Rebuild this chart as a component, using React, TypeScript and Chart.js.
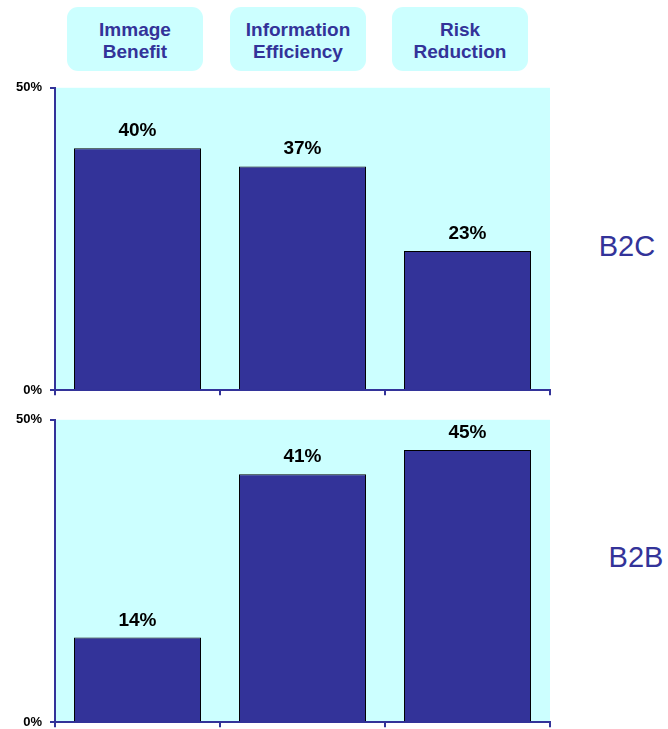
import React, { useEffect, useRef } from "react";
import { Chart, registerables } from "chart.js";

Chart.register(...registerables);

const categories = ["Immage Benefit", "Information Efficiency", "Risk Reduction"];
const headerLines = [["Immage", "Benefit"], ["Information", "Efficiency"], ["Risk", "Reduction"]];
const b2cValues = [40, 37, 23];
const b2bValues = [14, 41, 45];
const yTicks = [0, 50];
const panelLabels = ["B2C", "B2B"];

const NAVY = "#333399";
const CYAN = "#ccffff";
const FONT = "'Liberation Sans', Arial, Helvetica, sans-serif";

const bgPlugin = {
  id: "bgFill",
  beforeDraw(chart: any) {
    const { ctx, chartArea } = chart;
    ctx.save();
    ctx.fillStyle = CYAN;
    ctx.fillRect(chartArea.left, chartArea.top, chartArea.right - chartArea.left, chartArea.bottom - chartArea.top);
    ctx.restore();
  },
};

const labelPlugin = {
  id: "valueLabels",
  afterDatasetsDraw(chart: any) {
    const { ctx } = chart;
    const meta = chart.getDatasetMeta(0);
    const data = chart.data.datasets[0].data;
    ctx.save();
    ctx.fillStyle = "#000";
    ctx.font = `bold 19px ${FONT}`;
    ctx.textAlign = "center";
    ctx.textBaseline = "alphabetic";
    meta.data.forEach((el: any, i: number) => {
      ctx.fillText(`${data[i]}%`, el.x, el.y - 12);
    });
    ctx.restore();
  },
};

function BarPanel({ values, top }: { values: number[]; top: number }) {
  const ref = useRef<HTMLCanvasElement>(null);
  useEffect(() => {
    if (!ref.current) return;
    const chart = new Chart(ref.current, {
      type: "bar",
      data: {
        labels: categories,
        datasets: [
          {
            data: values,
            backgroundColor: NAVY,
            borderColor: "#000",
            borderWidth: 1,
            barPercentage: 0.77,
            categoryPercentage: 1,
          },
        ],
      },
      options: {
        animation: false,
        responsive: false,
        maintainAspectRatio: false,
        events: [],
        layout: { padding: { top: 8, left: 0, right: 10, bottom: 0 } },
        plugins: { legend: { display: false }, tooltip: { enabled: false }, title: { display: false } },
        scales: {
          x: {
            offset: true,
            grid: { offset: true, drawOnChartArea: false, drawTicks: true, tickLength: 5, color: NAVY, lineWidth: 2 },
            border: { display: true, color: NAVY, width: 2 },
            ticks: { display: false },
            afterFit(scale: any) {
              scale.height = 7;
            },
          },
          y: {
            min: 0,
            max: 50,
            afterBuildTicks(scale: any) {
              scale.ticks = yTicks.map((v) => ({ value: v }));
            },
            grid: { drawOnChartArea: false, drawTicks: true, tickLength: 5, color: NAVY, lineWidth: 2 },
            border: { display: true, color: NAVY, width: 2 },
            ticks: {
              color: "#000",
              font: { family: FONT, size: 13, weight: "bold" },
              padding: 8,
              callback: (v: any) => `${v}%`,
            },
            afterFit(scale: any) {
              scale.width = 55;
            },
          },
        },
      } as any,
      plugins: [bgPlugin, labelPlugin],
    });
    return () => chart.destroy();
  }, [values]);
  return (
    <canvas
      ref={ref}
      width={560}
      height={334}
      style={{ position: "absolute", left: 0, top, width: 560, height: 334 }}
    />
  );
}

const boxLefts = [67, 230, 392];

export default function App() {
  return (
    <div style={{ position: "absolute", left: 0, top: 0, width: 668, height: 729, background: "#fff", overflow: "hidden", fontFamily: FONT }}>
      {headerLines.map((lines, i) => (
        <div
          key={i}
          style={{
            position: "absolute",
            left: boxLefts[i],
            top: 7,
            width: 136,
            height: 64,
            boxSizing: "border-box",
            paddingTop: 4,
            borderRadius: 11,
            background: CYAN,
            color: NAVY,
            fontWeight: "bold",
            fontSize: 19,
            lineHeight: "22px",
            textAlign: "center",
            display: "flex",
            flexDirection: "column",
            justifyContent: "center",
          }}
        >
          <div>{lines[0]}</div>
          <div>{lines[1]}</div>
        </div>
      ))}
      <BarPanel values={b2cValues} top={72} />
      <BarPanel values={b2bValues} top={404} />
      <div style={{ position: "absolute", left: 567, width: 120, top: 229, textAlign: "center", color: NAVY, fontSize: 29, lineHeight: "34px" }}>
        {panelLabels[0]}
      </div>
      <div style={{ position: "absolute", left: 576, width: 120, top: 540, textAlign: "center", color: NAVY, fontSize: 29, lineHeight: "34px" }}>
        {panelLabels[1]}
      </div>
    </div>
  );
}
